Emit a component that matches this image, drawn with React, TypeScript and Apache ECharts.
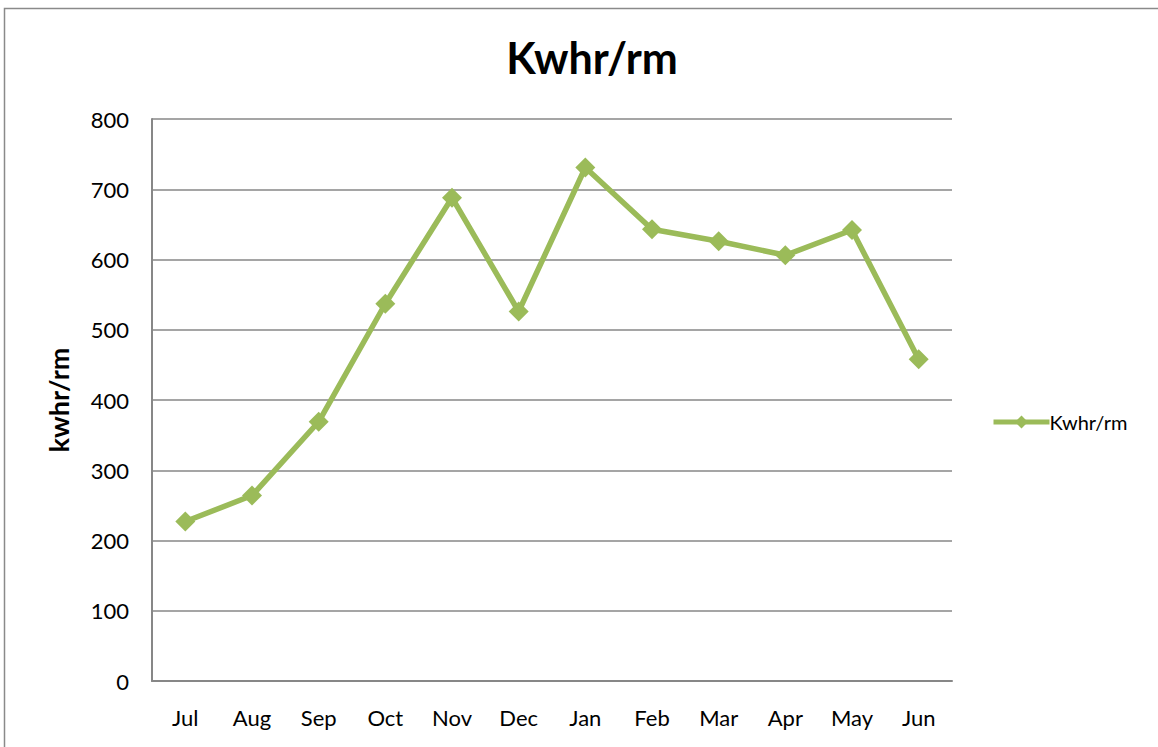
import React, { useEffect, useRef } from "react";
import * as echarts from "echarts";

const months = ["Jul", "Aug", "Sep", "Oct", "Nov", "Dec", "Jan", "Feb", "Mar", "Apr", "May", "Jun"];
const kwhrPerRm = [227, 264, 369, 537, 688, 526, 731, 643, 626, 606, 642, 458];
const seriesName = "Kwhr/rm";
const chartTitle = "Kwhr/rm";
const yAxisTitle = "kwhr/rm";

const GREEN = "#9BBB59";
const GRID = "#878787";
const FONT = "Lato, 'Noto Sans', sans-serif";

export default function App() {
  const ref = useRef<HTMLDivElement>(null);
  useEffect(() => {
    if (!ref.current) return;
    const chart = echarts.init(ref.current, null, { renderer: "svg" });
    chart.setOption({
      animation: false,
      backgroundColor: "#ffffff",
      textStyle: { fontFamily: FONT },
      title: {
        text: chartTitle,
        left: 587,
        top: 31,
        textAlign: "center",
        textStyle: { fontFamily: FONT, fontSize: 43, fontWeight: "bold", color: "#000" },
      },
      legend: {
        data: [seriesName],
        left: 986,
        top: 407,
        itemWidth: 56,
        itemHeight: 16,
        lineStyle: { width: 5 },
        textStyle: { fontFamily: FONT, fontSize: 20, color: "#000", padding: [0, 0, 0, -5] },
      },
      graphic: [
        {
          type: "rect",
          shape: { x: 4.5, y: 8.5, width: 1300, height: 900 },
          style: { fill: "none", stroke: "#8a8a8a", lineWidth: 1.5 },
          silent: true,
        },
      ],
      grid: { left: 152, right: 206, top: 119, bottom: 66 },
      xAxis: {
        type: "category",
        data: months,
        boundaryGap: true,
        axisLine: { lineStyle: { color: GRID, width: 2 } },
        axisTick: { show: false },
        axisLabel: { fontFamily: FONT, fontSize: 22, color: "#000", margin: 25 },
      },
      yAxis: {
        type: "value",
        min: 0,
        max: 800,
        interval: 100,
        name: yAxisTitle,
        nameLocation: "middle",
        nameGap: 80,
        nameRotate: 90,
        nameTextStyle: { fontFamily: FONT, fontSize: 27, fontWeight: "bold", color: "#000" },
        axisLine: { show: true, lineStyle: { color: GRID, width: 2 } },
        axisTick: { show: false },
        axisLabel: { fontFamily: FONT, fontSize: 22, color: "#000", margin: 23 },
        splitLine: { lineStyle: { color: GRID, width: 1.5 } },
      },
      series: [
        {
          name: seriesName,
          type: "line",
          data: kwhrPerRm,
          symbol: "diamond",
          symbolSize: 20,
          lineStyle: { color: GREEN, width: 5.5 },
          itemStyle: { color: GREEN },
        },
      ],
    });
    return () => chart.dispose();
  }, []);
  return (
    <div
      ref={ref}
      style={{ position: "fixed", left: 0, top: 0, width: 1158, height: 747 }}
    />
  );
}
